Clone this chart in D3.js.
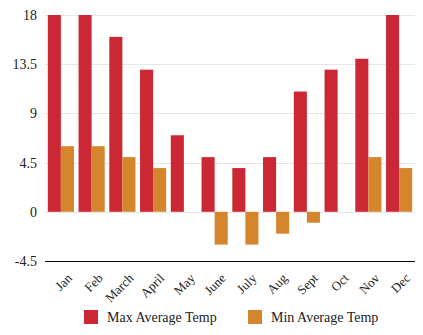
<!DOCTYPE html>
<html>
<head>
<meta charset="utf-8">
<script src="https://cdn.jsdelivr.net/npm/d3@7"></script>
<style>
  body { margin: 0; background: #fff; }
  svg text { font-family: "Liberation Serif", "Times New Roman", serif; fill: #222; }
</style>
</head>
<body>
<div id="chart"></div>
<script>
"use strict";

var months = ["Jan", "Feb", "March", "April", "May", "June", "July", "Aug", "Sept", "Oct", "Nov", "Dec"];
var maxTemp = [18, 18, 16, 13, 7, 5, 4, 5, 11, 13, 14, 18];
var minTemp = [6, 6, 5, 4, 0, -3, -3, -2, -1, 0, 5, 4];
var yTicks = [-4.5, 0, 4.5, 9, 13.5, 18];
var seriesNames = ["Max Average Temp", "Min Average Temp"];
var seriesColors = ["#cc2735", "#d5852b"];

var svg_dx = 423, svg_dy = 335;
var margin = {top: 15, right: 8, bottom: 74, left: 45};

var svg = d3.select("#chart")
    .append("svg")
    .attr("width", svg_dx)
    .attr("height", svg_dy);

var x = d3.scaleBand()
    .domain(months)
    .range([margin.left + 0.5, svg_dx - margin.right - 0.5])
    .paddingInner(0.15)
    .paddingOuter(0.075);

var x1 = d3.scaleBand()
    .domain([0, 1])
    .range([0, x.bandwidth()]);

var y = d3.scaleLinear()
    .domain([-4.5, 18])
    .range([svg_dy - margin.bottom, margin.top]);

// grid lines
svg.append("g")
    .selectAll("line")
    .data(yTicks.filter(function(t) { return t > -4.5; }))
    .enter()
    .append("line")
    .attr("x1", margin.left)
    .attr("x2", svg_dx - margin.right)
    .attr("y1", function(d) { return Math.round(y(d)) + 0.5; })
    .attr("y2", function(d) { return Math.round(y(d)) + 0.5; })
    .attr("stroke", "#e6e6e6");

// y axis labels
var axis_y = d3.axisLeft(y).tickValues(yTicks).tickSize(0).tickPadding(8)
    .tickFormat(function(d) { return d; });
svg.append("g")
    .attr("transform", "translate(" + margin.left + ",0)")
    .call(axis_y)
    .call(function(g) { g.select(".domain").remove(); })
    .selectAll("text")
    .attr("font-size", 14)
    .attr("font-family", "Liberation Serif")
    .attr("fill", "#222");

// bars
var series = [maxTemp, minTemp];
series.forEach(function(vals, si) {
    svg.append("g")
        .selectAll("rect")
        .data(vals)
        .enter()
        .append("rect")
        .attr("x", function(d, i) { return x(months[i]) + x1(si); })
        .attr("width", x1.bandwidth())
        .attr("y", function(d) { return y(Math.max(0, d)); })
        .attr("height", function(d) { return Math.abs(y(d) - y(0)); })
        .attr("fill", seriesColors[si]);
});

// baseline
svg.append("line")
    .attr("x1", margin.left)
    .attr("x2", svg_dx - margin.right)
    .attr("y1", Math.round(y(-4.5)) + 0.5)
    .attr("y2", Math.round(y(-4.5)) + 0.5)
    .attr("stroke", "#000");

// x labels
var axis_x = d3.axisBottom(x).tickSize(0).tickPadding(0);
svg.append("g")
    .attr("transform", "translate(0," + y(-4.5) + ")")
    .call(axis_x)
    .call(function(g) { g.select(".domain").remove(); })
    .selectAll("text")
    .attr("font-size", 13)
    .attr("font-family", "Liberation Serif")
    .attr("fill", "#222")
    .attr("text-anchor", "end")
    .attr("dy", null)
    .attr("y", 0)
    .attr("transform", "translate(12,18) rotate(-45)");

// legend
var legend = svg.append("g");
var legendX = [84, 248];
seriesNames.forEach(function(name, i) {
    legend.append("rect")
        .attr("x", legendX[i])
        .attr("y", 310)
        .attr("width", 14)
        .attr("height", 14)
        .attr("fill", seriesColors[i]);
    legend.append("text")
        .attr("x", legendX[i] + 23)
        .attr("y", 322)
        .attr("font-size", 14)
        .text(name);
});
</script>
</body>
</html>
